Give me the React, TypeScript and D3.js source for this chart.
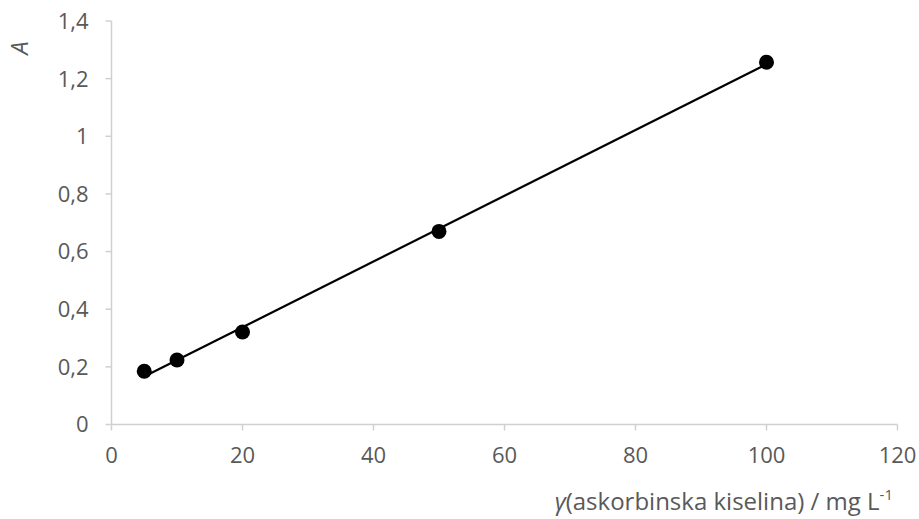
import React from "react";
import * as d3 from "d3";

const concentrations = [5, 10, 20, 50, 100];
const absorbances = [0.185, 0.224, 0.321, 0.67, 1.257];
const xTicks = [0, 20, 40, 60, 80, 100, 120];
const yTicks = [0, 0.2, 0.4, 0.6, 0.8, 1, 1.2, 1.4];

const W = 919;
const H = 519;
const M = { left: 111.5, right: 21.5, top: 21, bottom: 94.5 };

export default function App() {
  const x = d3.scaleLinear().domain([0, 120]).range([M.left, W - M.right]);
  const y = d3.scaleLinear().domain([0, 1.4]).range([H - M.bottom, M.top]);

  // linear regression (trendline)
  const mx = d3.mean(concentrations)!;
  const my = d3.mean(absorbances)!;
  let sxy = 0, sxx = 0;
  concentrations.forEach((c, i) => {
    sxy += (c - mx) * (absorbances[i] - my);
    sxx += (c - mx) * (c - mx);
  });
  const slope = sxy / sxx;
  const intercept = my - slope * mx;
  const xMin = d3.min(concentrations)!;
  const xMax = d3.max(concentrations)!;
  const line = d3
    .line<number>()
    .x((d) => x(d))
    .y((d) => y(intercept + slope * d));

  const fmt = (v: number) => String(+v.toFixed(1)).replace(".", ",");
  const axisColor = "#d0d0d0";
  const textColor = "#595959";
  const font = "'Open Sans', sans-serif";
  const fs = 22;
  const tfs = 24;

  return (
    <svg
      width={W}
      height={H}
      style={{ position: "absolute", left: 0, top: 0, background: "#fff" }}
      fontFamily={font}
    >
      {/* axes */}
      <line x1={x(0)} x2={x(120)} y1={y(0)} y2={y(0)} stroke={axisColor} strokeWidth={1.5} />
      <line x1={x(0)} x2={x(0)} y1={y(0)} y2={y(1.4)} stroke={axisColor} strokeWidth={1.5} />
      {xTicks.map((t) => (
        <g key={"x" + t}>
          <line x1={x(t)} x2={x(t)} y1={y(0)} y2={y(0) + 6} stroke={axisColor} strokeWidth={1.5} />
          <text x={x(t)} y={y(0) + 38} textAnchor="middle" fontSize={fs} fill={textColor}>
            {t}
          </text>
        </g>
      ))}
      {yTicks.map((t) => (
        <g key={"y" + t}>
          <line x1={x(0) - 6} x2={x(0)} y1={y(t)} y2={y(t)} stroke={axisColor} strokeWidth={1.5} />
          <text
            x={x(0) - 23}
            y={y(t)}
            dy="0.36em"
            textAnchor="end"
            fontSize={fs}
            fill={textColor}
          >
            {fmt(t)}
          </text>
        </g>
      ))}

      {/* trendline */}
      <path d={line([xMin, xMax]) ?? ""} fill="none" stroke="#000" strokeWidth={2.2} />

      {/* points */}
      {concentrations.map((c, i) => (
        <circle key={c} cx={x(c)} cy={y(absorbances[i])} r={7.5} fill="#000" />
      ))}

      {/* axis titles */}
      <text
        transform={`translate(28,${48}) rotate(-90)`}
        textAnchor="middle"
        fontSize={tfs}
        fontStyle="italic"
        fill={textColor}
      >
        A
      </text>
      <text x={893} y={510} textAnchor="end" fontSize={tfs} fill={textColor}>
        <tspan fontStyle="italic">γ</tspan>
        <tspan>(askorbinska kiselina) / mg L</tspan>
        <tspan fontSize={15} dy={-10}>-1</tspan>
      </text>
    </svg>
  );
}
